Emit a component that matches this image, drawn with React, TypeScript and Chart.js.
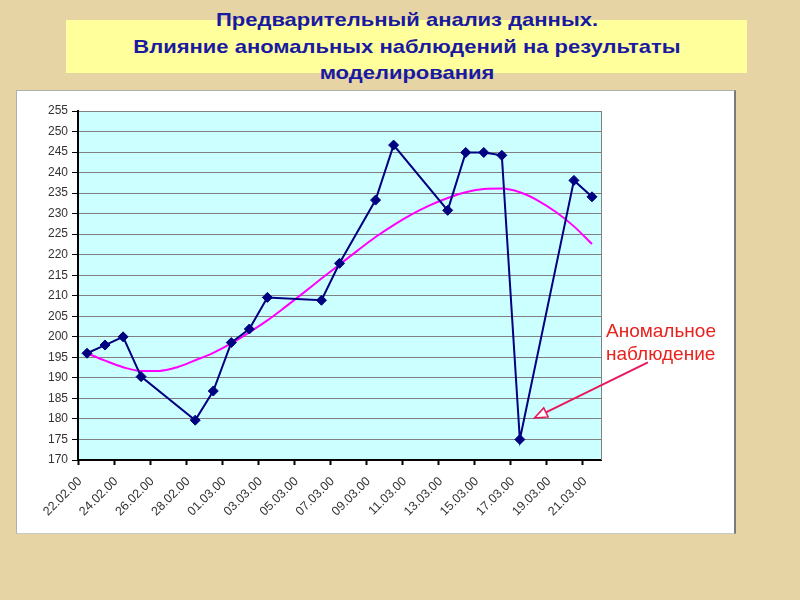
import React, { useEffect, useRef } from "react";
import { Chart, registerables } from "chart.js";

Chart.register(...registerables);

const dates = [
  "22.02.00", "23.02.00", "24.02.00", "25.02.00", "26.02.00", "27.02.00", "28.02.00", "29.02.00",
  "01.03.00", "02.03.00", "03.03.00", "04.03.00", "05.03.00", "06.03.00", "07.03.00", "08.03.00",
  "09.03.00", "10.03.00", "11.03.00", "12.03.00", "13.03.00", "14.03.00", "15.03.00", "16.03.00",
  "17.03.00", "18.03.00", "19.03.00", "20.03.00", "21.03.00",
];

const observed = [
  196, 198, 200, 190.3, null, null, 179.7, 186.8, 198.6, 201.9, 209.6, null, null, 208.9, 217.9,
  null, 233.3, 246.7, null, null, 230.8, 244.9, 244.9, 244.2, 175, null, null, 238.1, 234.1,
];

const trend = [
  196, 194.2, 192.6, 191.7, 191.7, 192.6, 194.3, 196.1, 198.4, 201.1, 204, 207.3, 210.7, 214.2, 217.6,
  221, 224.3, 227.2, 229.8, 232, 233.8, 235.2, 236, 236.1, 235.2, 233.2, 230.4, 226.9, 222.6,
];

const yMin = 170;
const yMax = 255;
const yStep = 5;

const titleLines = [
  "Предварительный анализ данных.",
  "Влияние аномальных наблюдений на результаты",
  "моделирования",
];
const noteLines = ["Аномальное", "наблюдение"];

// arrow in data coordinates (category index, value)
const arrowTip = { x: 24.8, y: 180.2 };
const arrowTail = { x: 31.1, y: 193.8 };

const FONT = "'Liberation Sans', Arial, sans-serif";

const framePlugin = {
  id: "frame",
  beforeDraw(chart: any) {
    const { ctx, chartArea } = chart;
    ctx.save();
    ctx.fillStyle = "#CCFFFF";
    ctx.fillRect(chartArea.left, chartArea.top, chartArea.right - chartArea.left, chartArea.bottom - chartArea.top);
    ctx.restore();
  },
  beforeDatasetsDraw(chart: any) {
    const { ctx, chartArea } = chart;
    ctx.save();
    ctx.strokeStyle = "#808080";
    ctx.lineWidth = 1;
    ctx.beginPath();
    ctx.moveTo(chartArea.right + 0.5, chartArea.top);
    ctx.lineTo(chartArea.right + 0.5, chartArea.bottom);
    ctx.stroke();
    ctx.restore();
  },
  afterDatasetsDraw(chart: any) {
    const { ctx } = chart;
    const xs = chart.scales.x;
    const ys = chart.scales.y;
    const tx = xs.getPixelForValue(arrowTip.x);
    const ty = ys.getPixelForValue(arrowTip.y);
    const sx = xs.getPixelForValue(arrowTail.x);
    const sy = ys.getPixelForValue(arrowTail.y);
    const ang = Math.atan2(ty - sy, tx - sx);
    const len = 13;
    const half = 5;
    const bx = tx - Math.cos(ang) * len;
    const by = ty - Math.sin(ang) * len;
    ctx.save();
    ctx.strokeStyle = "#E8195A";
    ctx.lineWidth = 2;
    ctx.beginPath();
    ctx.moveTo(sx, sy);
    ctx.lineTo(bx, by);
    ctx.stroke();
    ctx.beginPath();
    ctx.moveTo(tx, ty);
    ctx.lineTo(bx + Math.sin(ang) * half, by - Math.cos(ang) * half);
    ctx.lineTo(bx - Math.sin(ang) * half, by + Math.cos(ang) * half);
    ctx.closePath();
    ctx.fillStyle = "#FFFFFF";
    ctx.fill();
    ctx.lineWidth = 1.5;
    ctx.stroke();
    ctx.restore();
  },
};

export default function App() {
  const canvasRef = useRef<HTMLCanvasElement | null>(null);

  useEffect(() => {
    if (!canvasRef.current) return;
    const chart = new Chart(canvasRef.current, {
      type: "line",
      data: {
        labels: dates,
        datasets: [
          {
            label: "Наблюдения",
            data: observed,
            borderColor: "#000080",
            backgroundColor: "#000080",
            borderWidth: 2,
            pointStyle: "rectRot",
            pointRadius: 5,
            pointBorderWidth: 1,
            pointBackgroundColor: "#000080",
            pointBorderColor: "#000080",
            spanGaps: true,
            tension: 0,
          },
          {
            label: "Тренд",
            data: trend,
            borderColor: "#FF00FF",
            borderWidth: 2,
            pointRadius: 0,
            cubicInterpolationMode: "monotone",
          },
        ],
      },
      options: {
        animation: false,
        responsive: false,
        maintainAspectRatio: false,
        events: [],
        layout: { padding: { left: 0, top: 20, right: 133, bottom: 0 } },
        plugins: { legend: { display: false }, tooltip: { enabled: false } },
        scales: {
          x: {
            type: "category",
            offset: true,
            afterFit(scale: any) {
              scale.height = 73;
            },
            grid: {
              offset: true,
              drawOnChartArea: false,
              tickLength: 5,
              color: (c: any) => (c.index % 2 === 0 ? "#000000" : "rgba(0,0,0,0)"),
              tickColor: (c: any) => (c.index % 2 === 0 ? "#000000" : "rgba(0,0,0,0)"),
              tickWidth: 2,
            },
            border: { display: true, color: "#000000", width: 2 },
            ticks: {
              autoSkip: false,
              maxRotation: 45,
              minRotation: 45,
              padding: 9,
              labelOffset: -7,
              color: "#333333",
              font: { family: FONT, size: 12.5 },
              callback: (_v: any, i: number) => (i % 2 === 0 ? dates[i] : ""),
            },
          },
          y: {
            min: yMin,
            max: yMax,
            afterFit(scale: any) {
              scale.width = 61;
            },
            grid: {
              color: "#808080",
              lineWidth: 1,
              tickColor: "#000000",
              tickLength: 6,
              tickWidth: 1,
            },
            border: { display: true, color: "#000000", width: 2 },
            ticks: {
              stepSize: yStep,
              padding: 4,
              color: "#333333",
              font: { family: FONT, size: 12 },
            },
          },
        },
      },
      plugins: [framePlugin],
    });
    return () => chart.destroy();
  }, []);

  return (
    <div
      style={{
        position: "absolute",
        left: 0,
        top: 0,
        width: 800,
        height: 600,
        overflow: "hidden",
        background: "#E6D4A4",
        fontFamily: FONT,
      }}
    >
      <div
        style={{
          position: "absolute",
          left: 66,
          top: 20,
          width: 681,
          height: 53,
          background: "#FFFF9C",
        }}
      />
      <div
        style={{
          position: "absolute",
          left: 7,
          top: 7,
          width: 800,
          textAlign: "center",
          fontWeight: "bold",
          fontSize: 19,
          lineHeight: "26.7px",
          color: "#1A1AA0",
          transform: "scaleX(1.157)",
          transformOrigin: "400px 0",
        }}
      >
        {titleLines.map((t) => (
          <div key={t}>{t}</div>
        ))}
      </div>
      <div
        style={{
          position: "absolute",
          left: 16,
          top: 90,
          width: 717,
          height: 442,
          background: "#FFFFFF",
          borderTop: "1px solid #B0B0B0",
          borderLeft: "1px solid #B0B0B0",
          borderBottom: "1px solid #C8C8C8",
          borderRight: "2px solid #7A7A7A",
        }}
      />
      <canvas
        ref={canvasRef}
        width={717}
        height={442}
        style={{ position: "absolute", left: 17, top: 91, width: 717, height: 442 }}
      />
      <div
        style={{
          position: "absolute",
          left: 606,
          top: 319,
          fontSize: 19,
          lineHeight: "23px",
          color: "#E8221E",
          whiteSpace: "nowrap",
        }}
      >
        {noteLines.map((t) => (
          <div key={t}>{t}</div>
        ))}
      </div>
    </div>
  );
}
